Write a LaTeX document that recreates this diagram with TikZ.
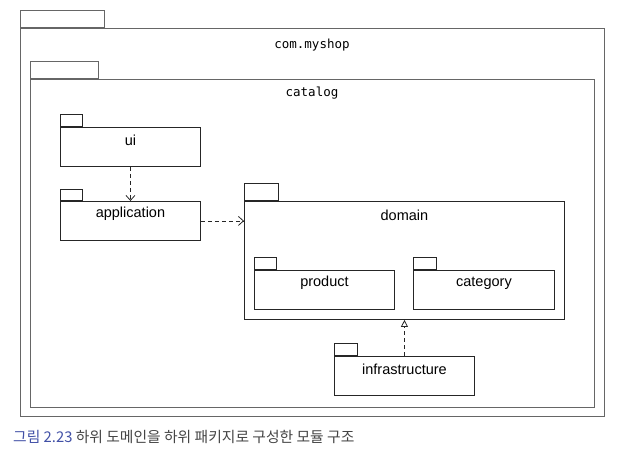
\documentclass[tikz,border=0pt]{standalone}
\usepackage{fontspec}
\setmainfont{Liberation Sans}
\setmonofont{DejaVu Sans Mono}
\newfontfamily\cjk{Noto Sans CJK KR}
\usetikzlibrary{arrows.meta,positioning}
\definecolor{capblue}{HTML}{4150A6}
\definecolor{capgray}{HTML}{444444}
\tikzset{
    outerbody/.style={draw=black!60,line width=1.1pt,inner sep=0pt,anchor=north west},
    outertab/.style={outerbody,anchor=south west},
    pkgbody/.style={draw=black!85,line width=0.9pt,inner sep=0pt,anchor=north west},
    pkgtab/.style={pkgbody,anchor=south west},
    pkgname/.style={font=\fontsize{14.5}{16}\selectfont,inner sep=0pt},
    outername/.style={font=\ttfamily\fontsize{12.5}{14}\selectfont,inner sep=0pt},
    depend/.style={draw=black!85,line width=0.8pt,dash pattern=on 4pt off 3pt,-{Straight Barb[length=5pt,width=9pt]}},
    realize/.style={draw=black!85,line width=0.8pt,dash pattern=on 4pt off 3pt,-{Triangle[open,length=7pt,width=7pt]}}
}

\begin{document}
\begin{tikzpicture}[x=1pt,y=-1pt]
\useasboundingbox (0,0) rectangle (622,457);
% com.myshop
\node[outerbody,minimum width=584pt,minimum height=388pt] (myshop) at (20,28) {};
\node[outertab,minimum width=84pt,minimum height=17pt] (myshop-tab) at (myshop.north west) {};
\node[outername] (myshop-name) at (312,45) {com.myshop};
% catalog
\node[outerbody,minimum width=564pt,minimum height=328pt] (catalog) at (30,79) {};
\node[outertab,minimum width=68pt,minimum height=17pt] (catalog-tab) at (catalog.north west) {};
\node[outername] (catalog-name) at (312,93) {catalog};
% ui, application
\node[pkgbody,minimum width=140pt,minimum height=39pt] (ui) at (60,127) {};
\node[pkgtab,minimum width=22pt,minimum height=12pt] (ui-tab) at (ui.north west) {};
\node[pkgname] (ui-name) at ([yshift=-13pt]ui.north) {ui};
\node[pkgbody,minimum width=140pt,minimum height=39pt] (app) at (60,201) {};
\node[pkgtab,minimum width=22pt,minimum height=11pt] (app-tab) at (app.north west) {};
\node[pkgname] (app-name) at ([yshift=-13pt]app.north) {application};
% domain
\node[pkgbody,minimum width=320pt,minimum height=118pt] (domain) at (244,201) {};
\node[pkgtab,minimum width=34pt,minimum height=17pt] (domain-tab) at (domain.north west) {};
\node[pkgname] (domain-name) at ([yshift=-14pt]domain.north) {domain};
\node[pkgbody,minimum width=140pt,minimum height=39pt] (product) at (254,270) {};
\node[pkgtab,minimum width=22pt,minimum height=12pt] (product-tab) at (product.north west) {};
\node[pkgname] (product-name) at ([yshift=-13pt]product.north) {product};
\node[pkgbody,minimum width=141pt,minimum height=39pt] (category) at (413,270) {};
\node[pkgtab,minimum width=23pt,minimum height=12pt] (category-tab) at (category.north west) {};
\node[pkgname] (category-name) at ([yshift=-13pt]category.north) {category};
% infrastructure
\node[pkgbody,minimum width=140pt,minimum height=39pt] (infra) at (334,356) {};
\node[pkgtab,minimum width=23pt,minimum height=12pt] (infra-tab) at (infra.north west) {};
\node[pkgname] (infra-name) at ([yshift=-13pt]infra.north) {infrastructure};

\draw[depend](ui.south)--(app.north);
\draw[depend](app.east)--(app.east -| domain.west);
\draw[realize](infra.north)--(infra.north |- domain.south);

\node[anchor=west,inner sep=0pt,font=\cjk\fontsize{14.8}{17}\selectfont] (caption) at (13,437)
  {\textcolor{capblue}{그림 2.23} \textcolor{capgray}{하위 도메인을 하위 패키지로 구성한 모듈 구조}};
\end{tikzpicture}
\end{document}
